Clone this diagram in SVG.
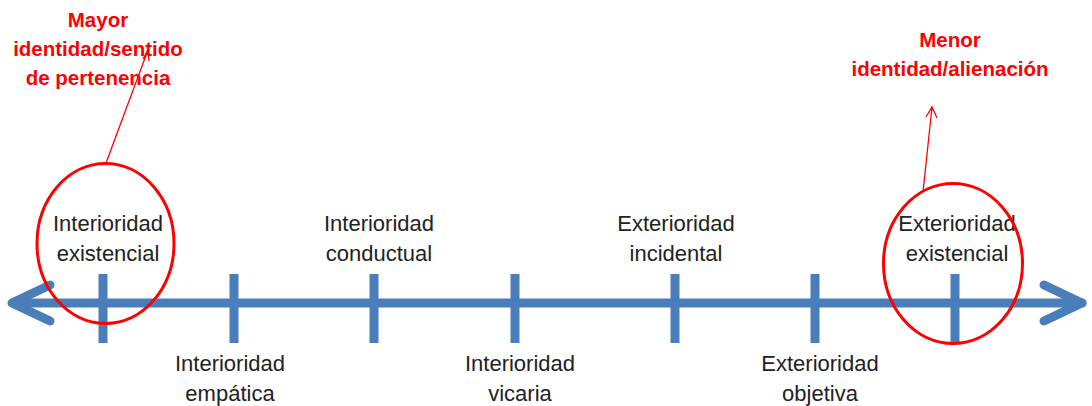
<svg xmlns="http://www.w3.org/2000/svg" width="1092" height="406" viewBox="0 0 1092 406">
<style>
.lbl{font-family:"Liberation Sans",Arial,sans-serif;font-size:22px;fill:#222;text-anchor:middle}
.red{font-family:"Liberation Sans",Arial,sans-serif;font-size:20.5px;font-weight:bold;fill:#ff0000;text-anchor:middle}
.axis{stroke:#4A7EBB;stroke-width:9;fill:none;stroke-linecap:round;stroke-linejoin:round}
.tick{stroke:#4A7EBB;stroke-width:9;fill:none}
.ell{fill:none;stroke:#ff0000;stroke-width:3}
.lead{stroke:#ff0000;stroke-width:1.3;fill:none}
</style>
<rect width="1092" height="406" fill="#ffffff"/>
<g id="connectors">
<path class="axis" d="M14 303 H1082"/>
<path class="axis" d="M50 285 L12 303 L50 321"/>
<path class="axis" d="M1044 285 L1082 303 L1044 321"/>
<path class="tick" d="M103 274 V343 M234 274 V343 M374 274 V343 M515 274 V343 M675 274 V343 M815 274 V343 M955 274 V343"/>
<path class="lead" d="M106 163 L148 50 M143 59 L148 50 L149 61"/>
<path class="lead" d="M923 192 L932 107 M926 117 L932 107 L937 118"/>
</g>
<g id="n-int-existencial"><text class="lbl" x="108" y="231">Interioridad</text><text class="lbl" x="108" y="261">existencial</text></g>
<g id="n-int-conductual"><text class="lbl" x="379" y="231">Interioridad</text><text class="lbl" x="379" y="261">conductual</text></g>
<g id="n-ext-incidental"><text class="lbl" x="676" y="231">Exterioridad</text><text class="lbl" x="676" y="261">incidental</text></g>
<g id="n-ext-existencial"><text class="lbl" x="957" y="231">Exterioridad</text><text class="lbl" x="957" y="261">existencial</text></g>
<g id="n-int-empatica"><text class="lbl" x="230" y="371">Interioridad</text><text class="lbl" x="230" y="401">empática</text></g>
<g id="n-int-vicaria"><text class="lbl" x="520" y="371">Interioridad</text><text class="lbl" x="520" y="401">vicaria</text></g>
<g id="n-ext-objetiva"><text class="lbl" x="820" y="371">Exterioridad</text><text class="lbl" x="820" y="401">objetiva</text></g>
<g id="n-ellipse-left"><ellipse class="ell" cx="105.5" cy="243.5" rx="68.5" ry="80"/></g>
<g id="n-ellipse-right"><ellipse class="ell" cx="953" cy="263.5" rx="69.5" ry="80"/></g>
<g id="n-mayor"><text class="red" x="98" y="27">Mayor</text><text class="red" x="98" y="56">identidad/sentido</text><text class="red" x="98" y="85">de pertenencia</text></g>
<g id="n-menor"><text class="red" x="950" y="47">Menor</text><text class="red" x="950" y="76">identidad/alienación</text></g>
</svg>
